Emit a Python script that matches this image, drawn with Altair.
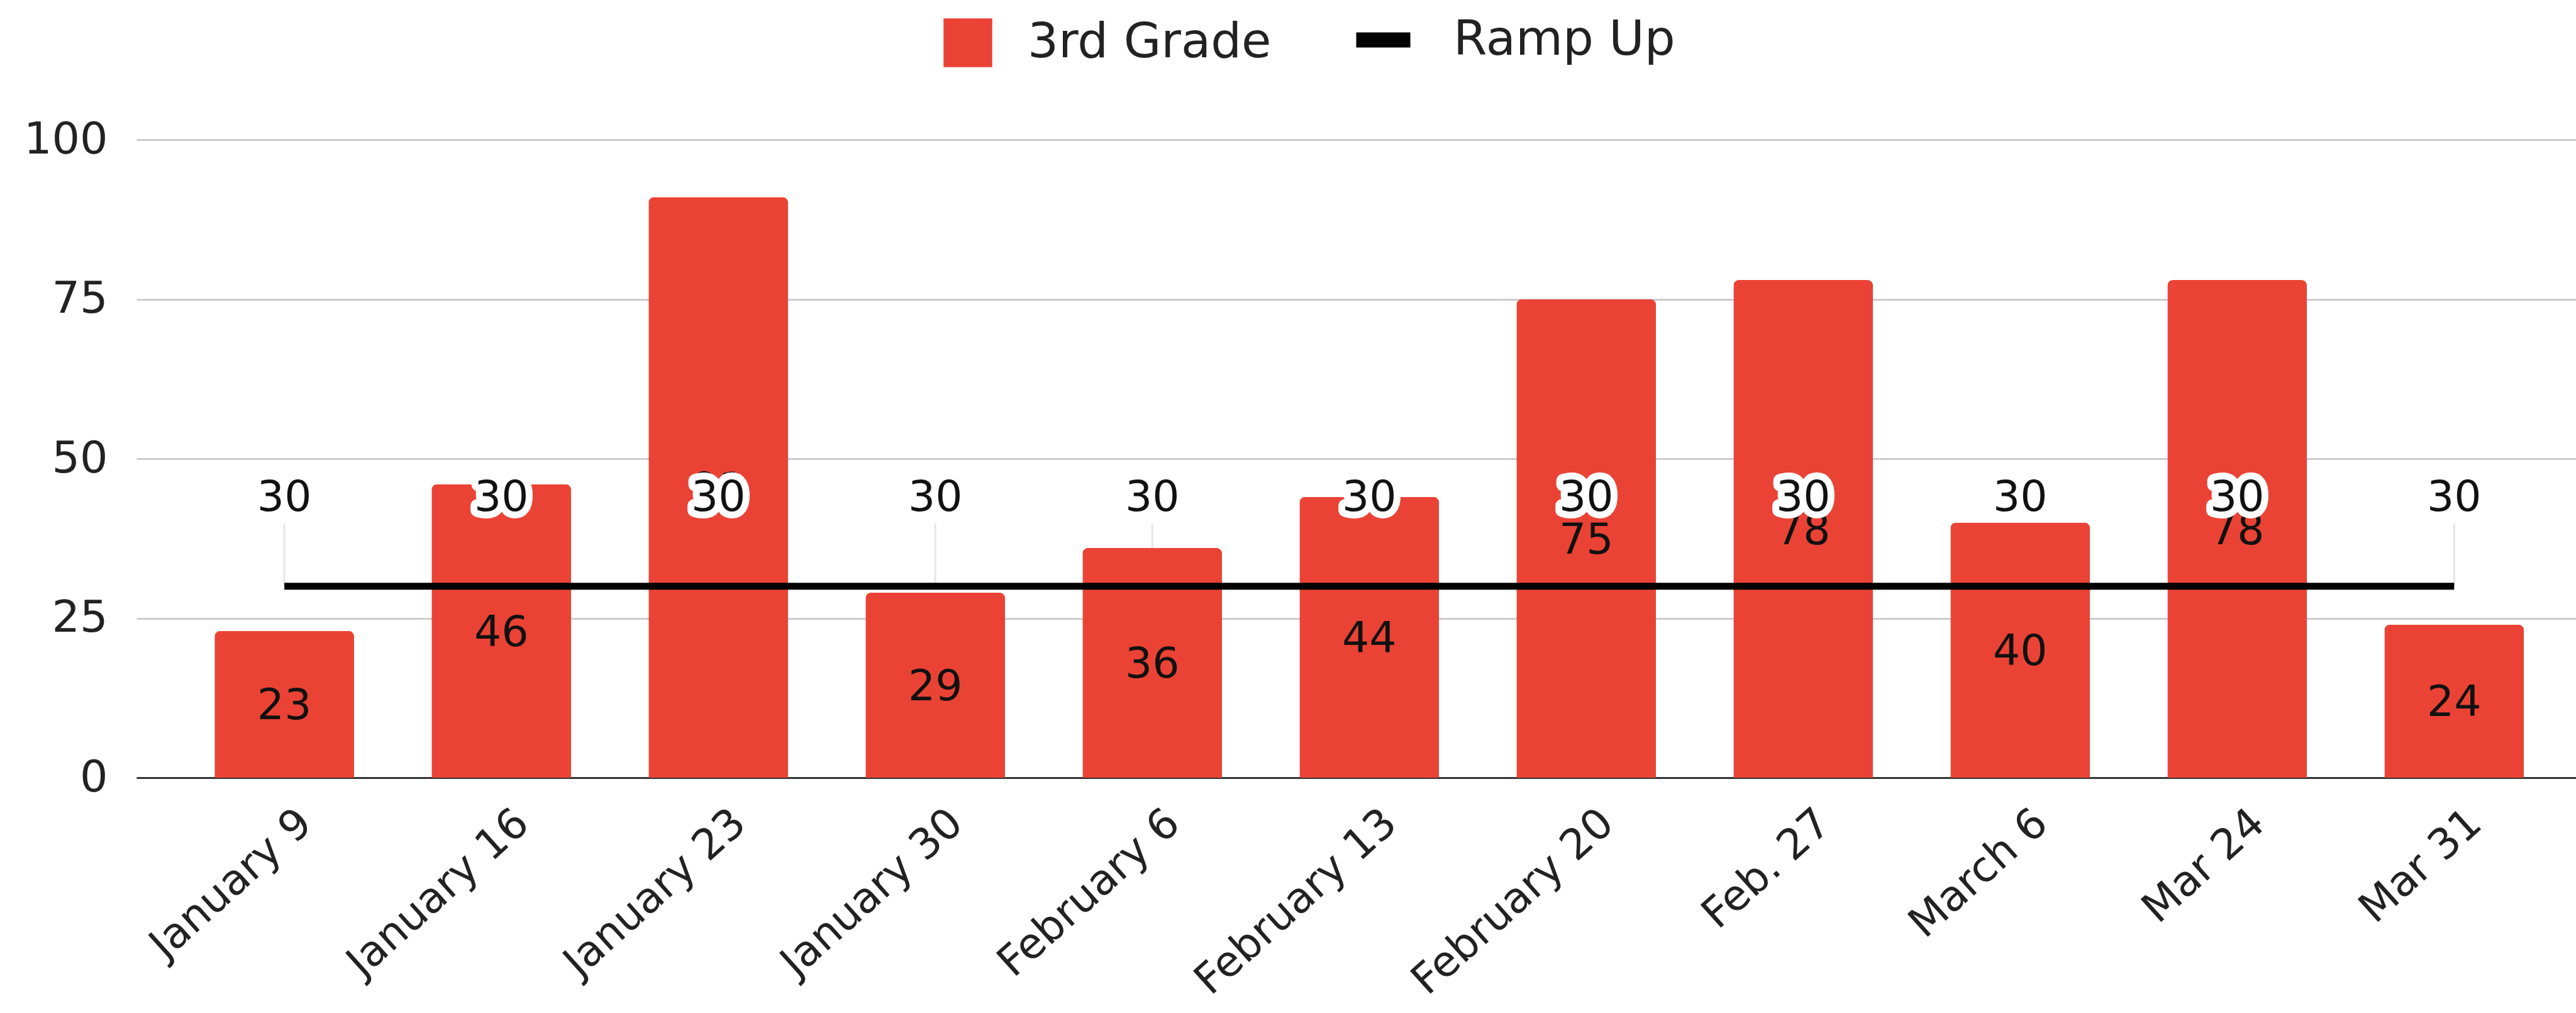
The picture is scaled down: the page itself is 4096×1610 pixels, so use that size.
import altair as alt
import pandas as pd

# Weekly scores for the 3rd grade group against the ramp-up target
dates = ["January 9", "January 16", "January 23", "January 30", "February 6",
         "February 13", "February 20", "Feb. 27", "March 6", "Mar 24", "Mar 31"]
grade3 = [23, 46, 91, 29, 36, 44, 75, 78, 40, 78, 24]
ramp_up = [30, 30, 30, 30, 30, 30, 30, 30, 30, 30, 30]
bar_series = "3rd Grade"
line_series = "Ramp Up"
bar_color = "#EA4335"
line_color = "#000000"
y_ticks = [0, 25, 50, 75, 100]

FONT = "DejaVu Sans"

bars_df = pd.DataFrame({"date": dates, "value": grade3, "series": bar_series})
ramp_df = pd.DataFrame({"date": dates, "value": ramp_up, "series": line_series})

x_enc = alt.X(
    "date:N",
    sort=dates,
    title=None,
    scale=alt.Scale(paddingInner=0.357, paddingOuter=0.30, align=0.60),
    axis=alt.Axis(
        labelAngle=-42,
        labelAlign="right",
        labelBaseline="top",
        labelFont=FONT,
        labelFontSize=67,
        labelColor="#222222",
        labelPadding=38,
        labelOffset=12,
        labelLimit=0,
        labelOverlap=False,
        ticks=False,
        tickSize=0,
        grid=False,
        domain=True,
        domainColor="#333333",
        domainWidth=3,
    ),
)

y_scale = alt.Scale(domain=[0, 100], nice=False)
y_enc = alt.Y(
    "value:Q",
    title=None,
    scale=y_scale,
    axis=alt.Axis(
        values=y_ticks,
        labelFont=FONT,
        labelFontSize=70,
        labelColor="#222222",
        labelPadding=46,
        ticks=False,
        tickSize=0,
        domain=False,
        grid=True,
        gridColor="#cccccc",
        gridWidth=3,
    ),
)

legend_common = dict(
    orient="none",
    direction="horizontal",
    labelFont=FONT,
    labelFontSize=77,
    labelColor="#222222",
    labelLimit=0,
    padding=0,
)

# thin leader from each target point up to its label
leaders = alt.Chart(ramp_df).mark_rule(
    color="#e6e6e6", strokeWidth=3, y2Offset=-100
).encode(x=x_enc, y=y_enc, y2="value:Q")

bars = alt.Chart(bars_df).mark_bar(
    cornerRadiusTopLeft=9, cornerRadiusTopRight=9
).encode(
    x=x_enc,
    y=y_enc,
    color=alt.Color(
        "series:N",
        scale=alt.Scale(domain=[bar_series], range=[bar_color]),
        title=None,
        legend=alt.Legend(
            legendX=1283,
            legendY=-193,
            symbolType="square",
            symbolSize=6000,
            symbolStrokeWidth=0,
            labelOffset=56,
            **legend_common,
        ),
    ),
)

bar_labels = alt.Chart(bars_df).transform_calculate(
    mid="datum.value / 2"
).mark_text(
    font=FONT, fontSize=68, color="#111111", baseline="middle", dy=4
).encode(x=x_enc, y=alt.Y("mid:Q", scale=y_scale), text="value:Q")

ramp_line = alt.Chart(ramp_df).mark_line(strokeWidth=11, strokeCap="butt").encode(
    x=x_enc,
    y=y_enc,
    color=alt.Color(
        "series:N",
        scale=alt.Scale(domain=[line_series], range=[line_color]),
        title=None,
        legend=alt.Legend(
            legendX=1927,
            legendY=-214,
            symbolType="stroke",
            symbolSize=7400,
            symbolStrokeWidth=24,
            labelOffset=56,
            **legend_common,
        ),
    ),
)

ramp_halo = alt.Chart(ramp_df).mark_text(
    font=FONT, fontSize=68, baseline="middle", dy=-140,
    fill="white", stroke="white", strokeWidth=22, strokeJoin="round",
).encode(x=x_enc, y=y_enc, text="value:Q")

ramp_labels = alt.Chart(ramp_df).mark_text(
    font=FONT, fontSize=68, baseline="middle", dy=-140, color="#111111"
).encode(x=x_enc, y=y_enc, text="value:Q")

chart = alt.layer(
    leaders, bars, bar_labels, ramp_line, ramp_halo, ramp_labels
).resolve_scale(
    color="independent"
).properties(
    width=3879,
    height=1014,
    padding={"left": 217, "top": 222, "right": 0, "bottom": 374},
    autosize=alt.AutoSizeParams(type="none"),
    background="white",
).configure_view(stroke=None)

chart.save("out.html", embed_options={"renderer": "svg", "actions": False})
